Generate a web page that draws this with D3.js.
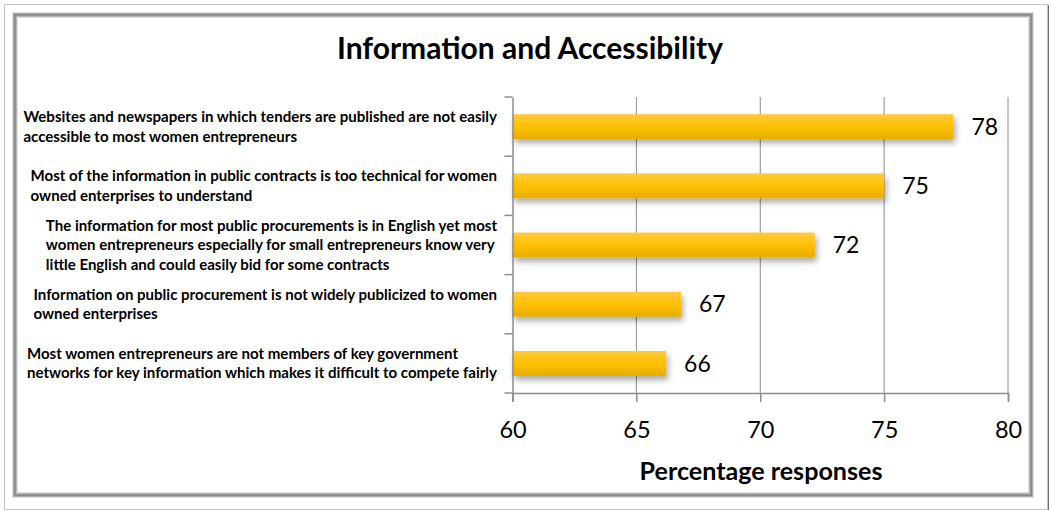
<!DOCTYPE html>
<style>
body { margin: 0; padding: 0; background: #fff; }
svg { display: block; font-family: Lato, "Open Sans", sans-serif; }
</style>
<svg width="1052" height="514"></svg>
<script src="https://d3js.org/d3.v7.min.js"></script>
<script>

var categories = [
  ["Websites and newspapers in which tenders are published are not easily", "accessible to most women entrepreneurs"],
  ["Most of the information in public contracts is too technical for women", "owned enterprises to understand"],
  ["The information for most public procurements is in English yet most", "women entrepreneurs especially for small entrepreneurs know very", "little English and could easily bid for some contracts"],
  ["Information on public procurement is not widely publicized to women", "owned enterprises"],
  ["Most women entrepreneurs are not members of key government", "networks for key information which makes it difficult to compete fairly"]
];
var values = [77.8, 75.0, 72.2, 66.8, 66.2];
var labels = ["78", "75", "72", "67", "66"];
var xTicks = [60, 65, 70, 75, 80];

var svg = d3.select("svg");
var margin = {top: 97, left: 512.5, right: 1008, bottom: 393};

var x = d3.scaleLinear().domain([60, 80]).range([margin.left, margin.right]);
var y = d3.scaleBand().domain(d3.range(categories.length))
    .range([margin.top, margin.bottom]).paddingInner(0.58).paddingOuter(0.29);
var band = d3.scaleBand().domain(d3.range(categories.length)).range([margin.top, margin.bottom]);

// make a text element span a given width by adjusting its font size
function fitWidth(sel, base, target) {
  sel.attr("font-size", base);
  var w = sel.node().getComputedTextLength();
  sel.attr("font-size", base * target / w);
}

// frame
var frame = svg.append("g");
frame.append("rect").attr("x", 4.5).attr("y", 4.5).attr("width", 1043).attr("height", 505)
  .attr("fill", "none").attr("stroke", "#c4c4c4");
var bevel = ["#e0e0e0", "#adadad", "#888888", "#969696", "#b8b8b8", "#dedede"];
bevel.forEach(function(c, i) {
  var d = 12.5 + i;
  frame.append("rect").attr("x", d).attr("y", d)
    .attr("width", 1052 - 2 * d - 6).attr("height", 514 - 2 * d - 4)
    .attr("fill", "none").attr("stroke", c);
});
frame.append("line").attr("x1", 1048.5).attr("x2", 1048.5).attr("y1", 5).attr("y2", 510)
  .attr("stroke", "#6e6e6e");

var defs = svg.append("defs");
var grad = defs.append("linearGradient").attr("id", "barGrad")
  .attr("x1", 0).attr("y1", 0).attr("x2", 0).attr("y2", 1);
grad.append("stop").attr("offset", "0%").attr("stop-color", "#ffca3e");
grad.append("stop").attr("offset", "50%").attr("stop-color", "#ffc000");
grad.append("stop").attr("offset", "100%").attr("stop-color", "#e6ad00");
var f = defs.append("filter").attr("id", "shadow").attr("x", "-10%").attr("y", "-40%")
  .attr("width", "130%").attr("height", "220%");
f.append("feDropShadow").attr("dx", 2).attr("dy", 4).attr("stdDeviation", 3)
  .attr("flood-color", "#000").attr("flood-opacity", 0.35);

// gridlines
svg.append("g").selectAll("line").data(xTicks.slice(1)).enter().append("line")
  .attr("x1", function(d) { return x(d); }).attr("x2", function(d) { return x(d); })
  .attr("y1", margin.top).attr("y2", margin.bottom)
  .attr("stroke", "#8c8c8c").attr("stroke-width", 1);

// bars
svg.append("g").selectAll("rect").data(values).enter().append("rect")
  .attr("x", x(60))
  .attr("y", function(d, i) { return y(i); })
  .attr("width", function(d) { return x(d) - x(60); })
  .attr("height", y.bandwidth())
  .attr("fill", "url(#barGrad)")
  .attr("filter", "url(#shadow)");

// axes
var xAxis = svg.append("g").attr("transform", "translate(0," + margin.bottom + ")")
  .call(d3.axisBottom(x).tickValues(xTicks).tickSize(9).tickPadding(19));
var yAxis = svg.append("g").attr("transform", "translate(" + margin.left + ",0)")
  .call(d3.axisLeft(band).tickSize(0).tickFormat(""));
[xAxis, yAxis].forEach(function(a) {
  a.select(".domain").attr("stroke", "#8c8c8c").attr("stroke-width", 1.5);
  a.selectAll(".tick line").attr("stroke", "#8c8c8c").attr("stroke-width", 1.5);
});
xAxis.selectAll(".tick text").attr("font-family", "Lato, sans-serif").attr("font-size", 23.5)
  .attr("fill", "#000");
// category separator ticks
var seps = d3.range(categories.length + 1).map(function(i) {
  return i < categories.length ? band(i) : margin.bottom;
});
yAxis.selectAll(".sep").data(seps).enter().append("line")
  .attr("x1", -8).attr("x2", 0)
  .attr("y1", function(d) { return d; }).attr("y2", function(d) { return d; })
  .attr("stroke", "#8c8c8c").attr("stroke-width", 1.5);

// value labels
svg.append("g").selectAll("text").data(values).enter().append("text")
  .attr("x", function(d) { return x(d) + 18; })
  .attr("y", function(d, i) { return y(i) + y.bandwidth() / 2; })
  .attr("dy", "0.36em")
  .attr("font-size", 23)
  .text(function(d, i) { return labels[i]; });

// category labels
var catG = svg.append("g").attr("font-weight", "bold").attr("font-size", 13);
var lineH = 19.3;
categories.forEach(function(lines, i) {
  var g = catG.append("g");
  var cy = band(i) + band.bandwidth() / 2;
  g.selectAll("text").data(lines).enter().append("text")
    .attr("y", function(d, j) { return cy + (j - (lines.length - 1) / 2) * lineH; })
    .attr("dy", "0.35em")
    .text(function(d) { return d; });
});
// fit label font to the reference width of the first line
var k = 474 / catG.select("text").node().getComputedTextLength();
catG.attr("font-size", 13 * k);
catG.selectAll("g").each(function() {
  var t = d3.select(this).selectAll("text");
  var w = d3.max(t.nodes(), function(n) { return n.getComputedTextLength(); });
  t.attr("x", 497 - w);
});

// title
var title = svg.append("text").attr("x", 530).attr("y", 48).attr("dy", "0.35em")
  .attr("text-anchor", "middle").attr("font-weight", "bold")
  .text("Information and Accessibility");
fitWidth(title, 25, 386);

var xTitle = svg.append("text").attr("x", 761).attr("y", 471).attr("dy", "0.35em")
  .attr("text-anchor", "middle").attr("font-weight", "bold")
  .text("Percentage responses");
fitWidth(xTitle, 21, 243);

</script>
